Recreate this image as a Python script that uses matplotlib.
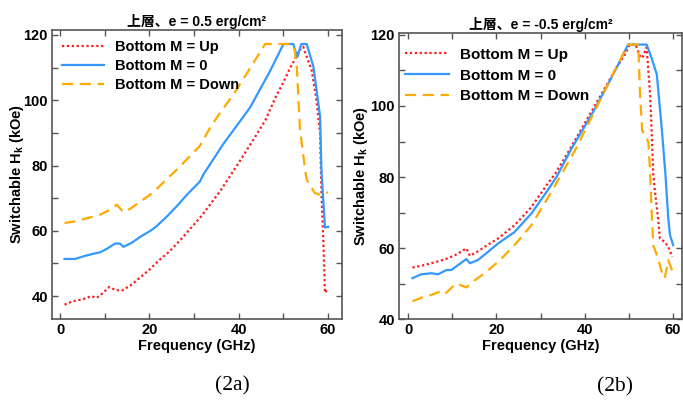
import matplotlib
matplotlib.use("Agg")
import matplotlib.pyplot as plt
from matplotlib.ticker import MultipleLocator

# ---------------- data ----------------
# Panel (2a): e = 0.5 erg/cm^2
a_up_f = [1, 3, 5, 7, 8.2, 9, 11, 12.5, 14, 16, 18, 20, 22, 24.5, 27, 29, 31.5, 34, 36, 38.5,
          41, 44, 46, 48.5, 50, 51.5, 52.5, 53.5, 54.4, 55.3, 56.3, 57.3, 58.2, 58.5, 58.9, 59.3, 59.8]
a_up_v = [37.4, 38.5, 39, 40, 39.5, 40.2, 42.8, 41.8, 41.8, 43.5, 45.8, 48.1, 50.8, 53.7, 57.3, 60.4,
          64.3, 68.8, 72.5, 77.7, 83, 89.5, 94, 101.7, 105.5, 109.9, 112.3, 115.3, 116.4, 113, 109.3,
          101, 90, 71.6, 58, 41, 42.2]

a_zero_f = [1, 3.4, 5.5, 7.5, 8.9, 10.5, 12.3, 13.4, 14.2, 16, 18, 20.1, 21.6, 24, 26.1, 28.5, 31.3,
            32.1, 36.5, 42.5, 47, 50, 52.2, 53.1, 54, 55.2, 56.7, 58.2, 58.5, 58.9, 59.3, 60]
a_zero_v = [51.4, 51.4, 52.3, 53, 53.4, 54.5, 56.1, 56.1, 55.1, 56.3, 58.2, 59.9, 61.4, 64.5, 67.5,
            71.2, 75.1, 77.3, 86.5, 97.7, 108.9, 117.2, 117.2, 113.2, 117.2, 117.2, 110.3, 95, 78.7,
            69.5, 61, 61.2]

a_down_f = [1, 3, 5, 7, 9, 11, 12.7, 14.2, 16, 18, 20.1, 22, 24, 26.1, 29.1, 31.3, 33.6, 36, 38.8,
            41.5, 44, 45.9, 48, 50, 51.8, 52.5, 53, 53.7, 54.8, 55.2, 57, 58.2, 60]
a_down_v = [62.4, 62.8, 63.5, 64.2, 65, 66.3, 68, 65.7, 67, 69, 71, 73.3, 76, 78.7, 82.9, 86, 91.6,
            96.5, 101.7, 107.5, 113, 117.2, 117.2, 117.2, 117.2, 115.5, 110, 91, 79.3, 75.7, 71.6,
            71, 71.8]

# Panel (2b): e = -0.5 erg/cm^2
b_up_f = [1, 3, 5.3, 7, 9, 11, 13.2, 14, 15.5, 17.3, 20.4, 24.1, 27.9, 31.3, 33.3, 36, 39, 42, 45,
          47, 49.1, 50.2, 51.5, 52.5, 53, 54, 54.8, 55.1, 55.5, 55.9, 56.6, 57, 58.1, 58.9, 59.8]
b_up_v = [54.5, 55, 55.7, 56.3, 57.1, 58.2, 59.9, 57.8, 58.8, 60.3, 62.7, 66.4, 71.5, 77.6, 80.9,
          86.5, 93, 99.5, 106, 110.5, 114.5, 117.3, 117.3, 114, 113.5, 116.5, 103, 94, 81, 75.7,
          68.3, 62.7, 61.7, 60.3, 57.5]

b_zero_f = [1, 3, 5.3, 6.8, 8.7, 9.8, 13.2, 14, 15.8, 18, 20.4, 24.1, 27.9, 31.3, 33.6, 37, 41.6,
            45, 47.5, 49.8, 52, 54, 55.1, 56.3, 57.4, 58.3, 58.9, 59.3, 60]
b_zero_v = [51.5, 52.6, 52.9, 52.6, 53.8, 53.8, 56.9, 55.7, 56.6, 58.8, 61.3, 64.5, 69.7, 75.7, 80,
            88, 97.7, 105.5, 111.5, 117.3, 117.3, 117.3, 113.6, 108.9, 94, 80, 68.3, 63.6, 60.8]

b_down_f = [1, 3, 5.3, 7.2, 8.3, 10.9, 13.2, 15, 17.3, 20.4, 24.1, 27.9, 31.3, 34.8, 38, 41, 44, 47,
            49.8, 51, 52.1, 52.5, 53, 53.6, 54.4, 54.8, 55.1, 55.5, 56.6, 57.4, 58.1, 58.9, 60]
b_down_v = [45, 46, 46.8, 47.7, 47, 50, 48.9, 50.8, 52.9, 56.1, 60.8, 66.4, 73.4, 80.9, 88, 95.5,
            103, 110.5, 117.3, 117.3, 117.3, 103.3, 93, 92, 89.8, 81, 71, 60.8, 57, 53.3, 51.5,
            56.6, 52.9]

labels = ["Bottom M = Up", "Bottom M = 0", "Bottom M = Down"]
titles = ["上層、e = 0.5 erg/cm²", "上層、e = -0.5 erg/cm²"]
captions = ["(2a)", "(2b)"]
xticks = [0, 20, 40, 60]
yticks_a = [40, 60, 80, 100, 120]
yticks_b = [40, 60, 80, 100, 120]

# ---------------- styling ----------------
SANS = ["Liberation Sans", "Noto Sans CJK JP", "DejaVu Sans"]
plt.rcParams["font.family"] = SANS
plt.rcParams["mathtext.fontset"] = "custom"
plt.rcParams["mathtext.rm"] = "Liberation Sans"
plt.rcParams["mathtext.bf"] = "Liberation Sans:bold"
plt.rcParams["mathtext.it"] = "Liberation Sans:italic"
plt.rcParams["mathtext.default"] = "bf"

RED = "#ff1a1a"
BLUE = "#3399ff"
ORANGE = "#ffaa00"
SPINE = "#555555"

fig = plt.figure(figsize=(6.83, 4.03), dpi=100)
ax_a = fig.add_axes([0.0761, 0.2084, 0.4246, 0.7172])
ax_b = fig.add_axes([0.5842, 0.2084, 0.4143, 0.7097])


def style(ax, yticks, xlim, ylim, title, legend_anchor, legsize, lspace, ylpad):
    ax.set_xlim(*xlim)
    ax.set_ylim(*ylim)
    ax.set_xticks(xticks)
    ax.set_yticks(yticks)
    ax.xaxis.set_minor_locator(MultipleLocator(10))
    ax.yaxis.set_minor_locator(MultipleLocator(10))
    ax.tick_params(which="both", direction="in", top=True, right=True,
                   color=SPINE, width=1.0)
    ax.tick_params(which="major", length=4, labelsize=10.5, pad=3)
    ax.tick_params(which="minor", length=4)
    for lab in ax.get_xticklabels() + ax.get_yticklabels():
        lab.set_fontweight("bold")
    for s in ax.spines.values():
        s.set_color(SPINE)
        s.set_linewidth(1.2)
    ax.set_xlabel("Frequency (GHz)", fontsize=10.5, fontweight="bold", labelpad=1)
    ax.set_ylabel("Switchable H$_\\mathbf{k}$ (kOe)", fontsize=10.5, fontweight="bold",
                  labelpad=ylpad)
    ax.set_title(title, fontsize=10, fontweight="bold", pad=3, family=SANS)
    leg = ax.legend(loc="upper left", bbox_to_anchor=legend_anchor, frameon=False,
                    handlelength=2.9, handletextpad=0.7, labelspacing=lspace,
                    borderaxespad=0.0, prop={"family": SANS, "weight": "bold", "size": legsize})
    return leg


ax_a.plot(a_up_f, a_up_v, color=RED, linestyle=(0, (1, 1.2)), linewidth=1.6, label=labels[0])
ax_a.plot(a_zero_f, a_zero_v, color=BLUE, linestyle="-", linewidth=1.6, label=labels[1])
ax_a.plot(a_down_f, a_down_v, color=ORANGE, linestyle=(0, (5, 3)), linewidth=1.6, label=labels[2])
style(ax_a, yticks_a, (-1.8, 63.1), (33, 121.5), titles[0], (0.015, 0.985), 10.5, 0.33, -2)

ax_b.plot(b_up_f, b_up_v, color=RED, linestyle=(0, (1, 1.2)), linewidth=1.6, label=labels[0])
ax_b.plot(b_zero_f, b_zero_v, color=BLUE, linestyle="-", linewidth=1.6, label=labels[1])
ax_b.plot(b_down_f, b_down_v, color=ORANGE, linestyle=(0, (5, 3)), linewidth=1.6, label=labels[2])
style(ax_b, yticks_b, (-2.04, 62), (40, 120.56), titles[1], (0.0, 0.97), 11, 0.45, 0.5)

fig.text(232 / 683, 1 - 386 / 403, captions[0], ha="center", va="center",
         fontsize=15.5, family="Liberation Serif")
fig.text(615 / 683, 1 - 387 / 403, captions[1], ha="center", va="center",
         fontsize=15.5, family="Liberation Serif")

fig.savefig("out.png", dpi=100)
